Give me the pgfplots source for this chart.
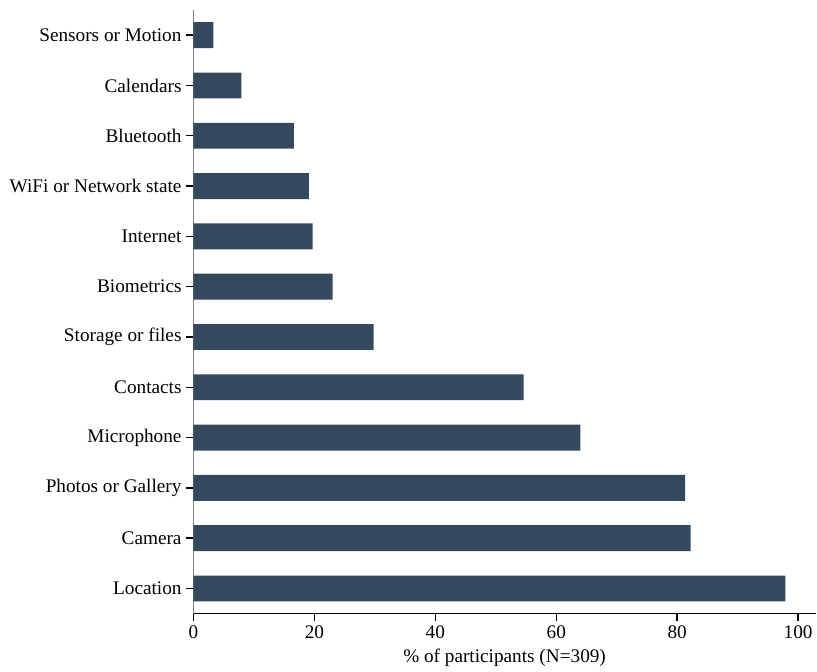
\documentclass[border={4pt 0pt 0pt 7pt}]{standalone}
\usepackage{pgfplots}
\pgfplotsset{compat=1.18}
\usepackage{fontspec}
\setmainfont{Liberation Serif}
\definecolor{barc}{HTML}{34495E}
\begin{document}
\begin{tikzpicture}
\begin{axis}[
  scale only axis,
  width=469pt, height=455pt,
  xbar, bar width=19.5pt,
  xmin=0, xmax=102.9,
  ymin=-0.5, ymax=11.5,
  ytick={0,...,11},
  yticklabels={Location,Camera,Photos or Gallery,Microphone,Contacts,Storage or files,Biometrics,Internet,WiFi or Network state,Bluetooth,Calendars,Sensors or Motion},
  xtick={0,20,40,60,80,100},
  /pgf/number format/assume math mode=true,
  xtick style={draw=black, line width=1.1pt},
  ytick style={draw=black, line width=1.1pt},
  major tick length=5.5pt,
  tick align=outside,
  axis x line*=bottom,
  axis y line*=left,
  x axis line style={black, line width=0.9pt, -},
  y axis line style={gray, line width=1.1pt, -},
  xticklabel style={font=\fontsize{14.5}{16}\selectfont},
  yticklabel style={font=\fontsize{14.5}{16}\selectfont},
  xlabel={\% of participants (N=309)},
  xlabel style={font=\fontsize{14.5}{16}\selectfont, yshift=-1pt},
  clip=false,
]
\addplot[fill=barc, draw=none] coordinates {
(97.9,0) (82.2,1) (81.3,2) (64.0,3) (54.6,4) (29.8,5) (23.0,6) (19.7,7) (19.1,8) (16.6,9) (7.9,10) (3.3,11)
};
\end{axis}
\end{tikzpicture}
\end{document}
